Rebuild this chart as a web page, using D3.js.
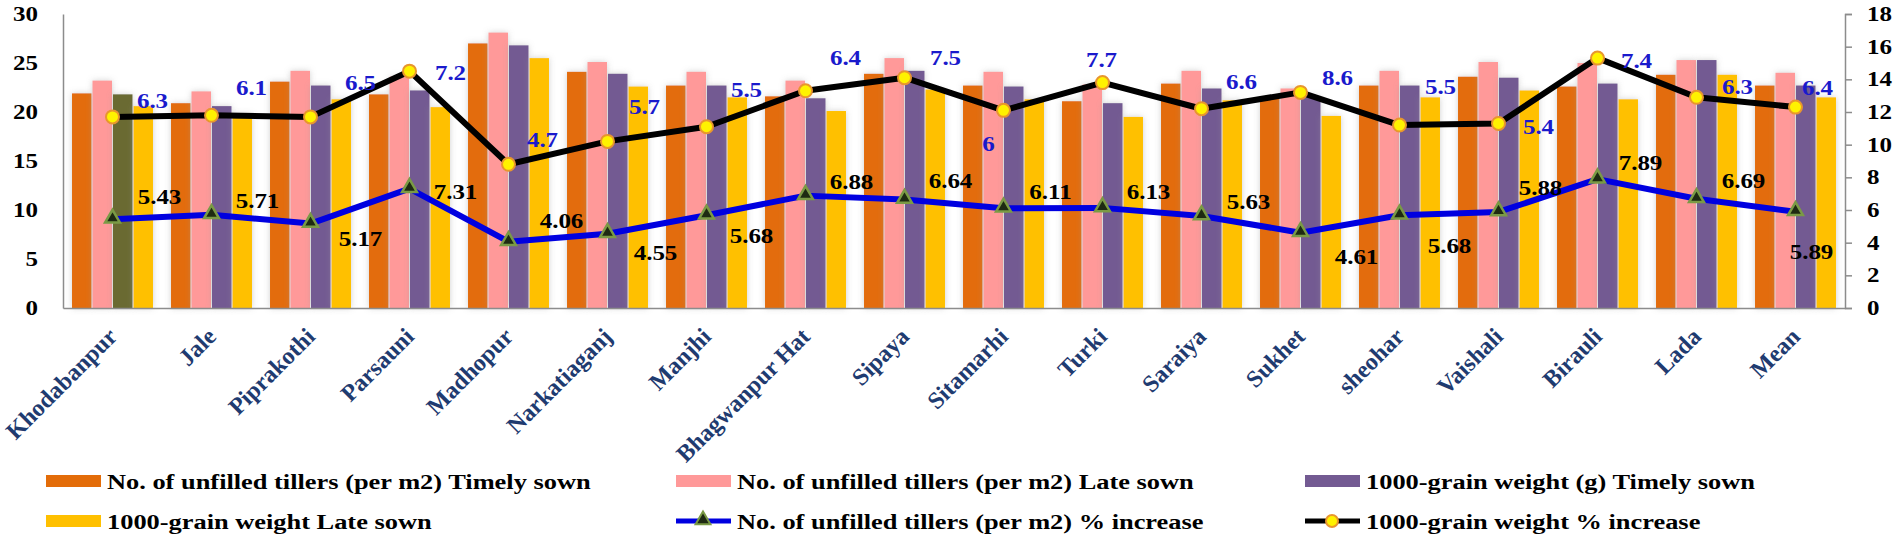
<!DOCTYPE html>
<html>
<head>
<meta charset="utf-8">
<script src="https://cdn.jsdelivr.net/npm/d3@7"></script>
<style>
  body { margin: 0; background: #fff; }
  svg text { font-family: "Liberation Serif", "Times New Roman", serif; font-weight: bold; }
</style>
</head>
<body>
<div id="chart"></div>
<script>
// categories (sites)
var categories = ["Khodabanpur", "Jale", "Piprakothi", "Parsauni", "Madhopur", "Narkatiaganj", "Manjhi",
    "Bhagwanpur Hat", "Sipaya", "Sitamarhi", "Turki", "Saraiya", "Sukhet", "sheohar", "Vaishali",
    "Birauli", "Lada", "Mean"];

// bar series (left axis)
var tillersTimely = [21.9, 20.9, 23.1, 21.8, 27.0, 24.1, 22.7, 21.6, 23.9, 22.7, 21.1, 22.9, 21.4, 22.7, 23.6, 22.6, 23.8, 22.7];
var tillersLate   = [23.2, 22.1, 24.2, 23.6, 28.1, 25.1, 24.1, 23.2, 25.5, 24.1, 22.8, 24.2, 22.4, 24.2, 25.1, 25.0, 25.3, 24.0];
var grainTimely   = [21.8, 20.6, 22.7, 22.2, 26.8, 23.9, 22.7, 21.4, 24.2, 22.6, 20.9, 22.4, 21.6, 22.7, 23.5, 22.9, 25.3, 22.7];
var grainLate     = [20.6, 19.8, 21.3, 20.5, 25.5, 22.6, 21.5, 20.1, 22.3, 21.3, 19.5, 21.2, 19.6, 21.5, 22.2, 21.3, 23.8, 21.5];

// line series (right axis)
var tillersIncrease = [5.43, 5.71, 5.17, 7.31, 4.06, 4.55, 5.68, 6.88, 6.64, 6.11, 6.13, 5.63, 4.61, 5.68, 5.88, 7.89, 6.69, 5.89];
var grainIncrease   = [11.7, 11.8, 11.7, 14.5, 8.8, 10.2, 11.1, 13.3, 14.1, 12.1, 13.8, 12.2, 13.2, 11.2, 11.3, 15.3, 12.9, 12.3];
var grainLabels     = ["6.3", "6.1", "6.5", "7.2", "4.7", "5.7", "5.5", "6.4", "7.5", "6", "7.7", "6.6", "8.6", "5.5", "5.4", "7.4", "6.3", "6.4"];

// tick labels
var leftTicks = [0, 5, 10, 15, 20, 25, 30];
var rightTicks = [0, 2, 4, 6, 8, 10, 12, 14, 16, 18];

var seriesNames = ["No. of unfilled tillers (per m2) Timely sown", "No. of unfilled tillers (per m2) Late sown",
    "1000-grain weight (g) Timely sown", "1000-grain weight Late sown"];
var lineNames = ["No. of unfilled tillers (per m2) % increase", "1000-grain weight % increase"];

// label placement (offset from the marker, px)
var blueLabelOff = [[40,-16],[40,-27],[50,-34],[41,2],[34,-24],[37,-34],[40,-36],[40,-32],[41,-19],[-15,34],
    [-1,-22],[40,-26],[37,-14],[41,-38],[40,4],[39,3],[41,-10],[22,-19]];
var blackLabelOff = [[47,-22],[46,-13],[50,16],[46,4],[53,-20],[48,20],[45,21],[46,-13],[46,-18],[47,-16],
    [46,-16],[47,-14],[56,25],[50,31],[42,-24],[43,-16],[47,-17],[16,41]];

var colors = ["#E36C09", "#FF9999", "#735A92", "#FFC000"];
var SX = 1.25; // numbers in the picture are stretched a bit sideways

var width = 1902, height = 543;
var mLeft = 63, mRight = 1845, mTop = 14, mBottom = 308;

var svg = d3.select("#chart").append("svg")
    .attr("width", width)
    .attr("height", height);

var defs = svg.append("defs");
var f = defs.append("filter").attr("id", "shadow")
    .attr("x", "-60%").attr("y", "-5%").attr("width", "220%").attr("height", "110%");
f.append("feDropShadow").attr("dx", 0).attr("dy", 0).attr("stdDeviation", 3)
    .attr("flood-color", "#999").attr("flood-opacity", 0.45);

var x0 = d3.scaleBand().domain(categories).range([mLeft, mRight]);
var x1 = d3.scaleBand().domain([0, 1, 2, 3]).range([0, x0.bandwidth()])
    .paddingInner(0.05).paddingOuter(0.44);
var yL = d3.scaleLinear().domain([0, 30]).range([mBottom, mTop]);
var yR = d3.scaleLinear().domain([0, 18]).range([mBottom, mTop]);

var rows = categories.map(function (c, i) {
    return { cat: c, vals: [tillersTimely[i], tillersLate[i], grainTimely[i], grainLate[i]] };
});

// bars
var groups = svg.append("g").selectAll("g")
    .data(rows)
    .enter().append("g")
    .attr("transform", function (d) { return "translate(" + x0(d.cat) + ",0)"; });

groups.selectAll("rect")
    .data(function (d, i) { return d.vals.map(function (v, k) { return { k: k, v: v, first: i === 0 }; }); })
    .enter().append("rect")
    .attr("x", function (d) { return x1(d.k); })
    .attr("width", x1.bandwidth())
    .attr("y", function (d) { return yL(d.v); })
    .attr("height", function (d) { return mBottom - yL(d.v); })
    .attr("fill", function (d) { return (d.first && d.k === 2) ? "#6B6A33" : colors[d.k]; })
    .attr("filter", "url(#shadow)");

// axes
var axisColor = "#8c8c8c";
svg.append("g")
    .attr("transform", "translate(" + mLeft + ",0)")
    .call(d3.axisLeft(yL).tickValues(leftTicks).tickSize(0))
    .call(function (g) {
        g.select(".domain").attr("stroke", axisColor).attr("stroke-width", 1.5);
        g.selectAll("text")
            .attr("x", null).attr("dy", null)
            .attr("text-anchor", "end")
            .attr("dominant-baseline", "central")
            .attr("transform", "translate(-25,0) scale(" + SX + ",1)")
            .attr("font-size", 20).attr("fill", "#000");
    });

svg.append("g")
    .attr("transform", "translate(" + mRight + ",0)")
    .call(d3.axisRight(yR).tickValues(rightTicks).tickSize(7).tickSizeOuter(7))
    .call(function (g) {
        g.select(".domain").attr("stroke", axisColor).attr("stroke-width", 1.5);
        g.selectAll("line").attr("stroke", axisColor).attr("stroke-width", 1.5);
        g.selectAll("text")
            .attr("x", null).attr("dy", null)
            .attr("text-anchor", "start")
            .attr("dominant-baseline", "central")
            .attr("transform", "translate(22,0) scale(" + SX + ",1)")
            .attr("font-size", 20).attr("fill", "#000");
    });

svg.append("g")
    .attr("transform", "translate(0," + mBottom + ")")
    .call(d3.axisBottom(x0).tickSize(0))
    .call(function (g) {
        g.select(".domain").attr("stroke", axisColor).attr("stroke-width", 1.5);
        g.selectAll("text")
            .attr("y", null).attr("dy", null)
            .attr("text-anchor", "end")
            .attr("transform", "translate(6,30) rotate(-45)")
            .attr("font-size", 24).attr("fill", "#1F3B70");
    });

// lines
var cx = function (d, i) { return x0(categories[i]) + x0.bandwidth() / 2; };

svg.append("path")
    .datum(tillersIncrease)
    .attr("fill", "none").attr("stroke", "#0000E0").attr("stroke-width", 6)
    .attr("stroke-linejoin", "round")
    .attr("d", d3.line().x(cx).y(function (d) { return yR(d); }));

svg.append("path")
    .datum(grainIncrease)
    .attr("fill", "none").attr("stroke", "#000").attr("stroke-width", 6)
    .attr("stroke-linejoin", "round")
    .attr("d", d3.line().x(cx).y(function (d) { return yR(d); }));

var tri = d3.symbol().type(d3.symbolTriangle).size(95);
svg.append("g").selectAll("path")
    .data(tillersIncrease)
    .enter().append("path")
    .attr("d", tri)
    .attr("transform", function (d, i) { return "translate(" + cx(d, i) + "," + (yR(d) - 1) + ")"; })
    .attr("fill", "#1E2A12").attr("stroke", "#7A9A45").attr("stroke-width", 2.5);

svg.append("g").selectAll("circle")
    .data(grainIncrease)
    .enter().append("circle")
    .attr("cx", cx)
    .attr("cy", function (d) { return yR(d); })
    .attr("r", 6.5)
    .attr("fill", "#FFF200").attr("stroke", "#E8962E").attr("stroke-width", 2);

// value labels
svg.append("g").selectAll("text")
    .data(tillersIncrease)
    .enter().append("text")
    .attr("transform", function (d, i) {
        return "translate(" + (cx(d, i) + blackLabelOff[i][0]) + "," + (yR(d) + blackLabelOff[i][1]) + ") scale(" + SX + ",1)";
    })
    .attr("text-anchor", "middle").attr("dominant-baseline", "central")
    .attr("font-size", 20).attr("fill", "#000")
    .text(function (d) { return d; });

svg.append("g").selectAll("text")
    .data(grainIncrease)
    .enter().append("text")
    .attr("transform", function (d, i) {
        return "translate(" + (cx(d, i) + blueLabelOff[i][0]) + "," + (yR(d) + blueLabelOff[i][1]) + ") scale(" + SX + ",1)";
    })
    .attr("text-anchor", "middle").attr("dominant-baseline", "central")
    .attr("font-size", 20).attr("fill", "#1A1ACC")
    .text(function (d, i) { return grainLabels[i]; });

// legend
var legendItems = [
    { name: seriesNames[0], type: "bar", color: colors[0] },
    { name: seriesNames[1], type: "bar", color: colors[1] },
    { name: seriesNames[2], type: "bar", color: colors[2] },
    { name: seriesNames[3], type: "bar", color: colors[3] },
    { name: lineNames[0], type: "tri" },
    { name: lineNames[1], type: "circle" }
];
var colX = [46, 676, 1305], rowY = [481, 521];

var leg = svg.append("g").selectAll("g")
    .data(legendItems)
    .enter().append("g")
    .attr("transform", function (d, i) { return "translate(" + colX[i % 3] + "," + rowY[Math.floor(i / 3)] + ")"; });

leg.each(function (d) {
    var g = d3.select(this);
    if (d.type === "bar") {
        g.append("rect").attr("x", 0).attr("y", -6).attr("width", 55).attr("height", 12).attr("fill", d.color);
    } else if (d.type === "tri") {
        g.append("line").attr("x1", 0).attr("x2", 55).attr("stroke", "#0000E0").attr("stroke-width", 5);
        g.append("path").attr("d", tri).attr("transform", "translate(27,-1)")
            .attr("fill", "#1E2A12").attr("stroke", "#7A9A45").attr("stroke-width", 2);
    } else {
        g.append("line").attr("x1", 0).attr("x2", 55).attr("stroke", "#000").attr("stroke-width", 5);
        g.append("circle").attr("cx", 27).attr("r", 6)
            .attr("fill", "#FFF200").attr("stroke", "#E8962E").attr("stroke-width", 2);
    }
    g.append("text")
        .attr("transform", "translate(61,0) scale(1.2,1)")
        .attr("dominant-baseline", "central")
        .attr("font-size", 22).attr("fill", "#000")
        .text(d.name);
});
</script>
</body>
</html>
